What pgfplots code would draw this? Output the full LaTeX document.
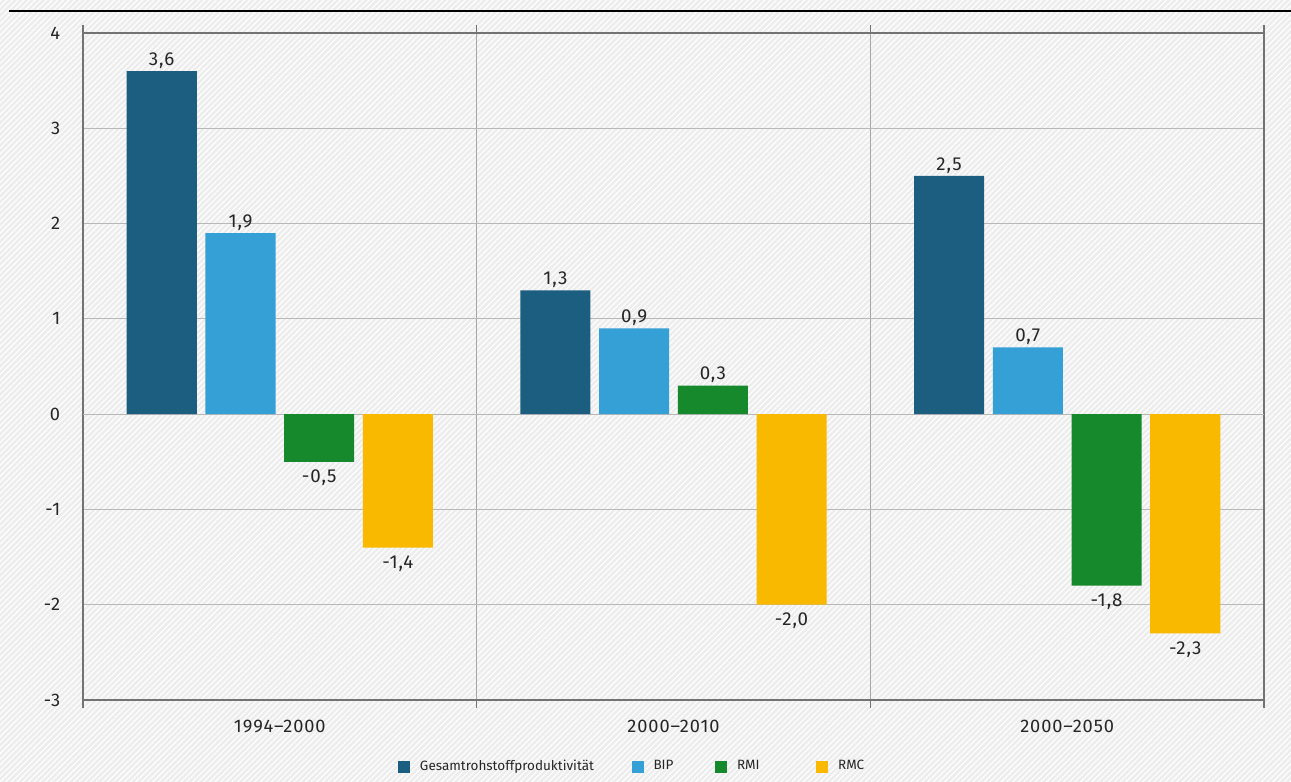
\documentclass[border=0pt]{standalone}
\usepackage{fontspec}
\setmainfont{Fira Sans}
\newfontfamily\tickfont{Fira Sans}[LetterSpace=5.0]
\usepackage{pgfplots}
\pgfplotsset{compat=1.18}
\usetikzlibrary{patterns.meta}
\definecolor{cDark}{RGB}{27,94,128}
\definecolor{cLight}{RGB}{52,160,214}
\definecolor{cGreen}{RGB}{22,137,44}
\definecolor{cYellow}{RGB}{249,185,0}
\pgfplotsset{sqlegend/.style={legend image code/.code={\fill[##1] (0pt,-2.4pt) rectangle (4.8pt,2.4pt);}}}
\begin{document}
\begin{tikzpicture}
\useasboundingbox (0,0) rectangle (516.4pt,312.8pt);
\fill[black!7] (0,0) rectangle (516.4pt,312.8pt);
\fill[pattern={Lines[angle=45,distance=1.6pt,line width=0.45pt]}, pattern color=white] (0,0) rectangle (516.4pt,312.8pt);
\draw[line width=1.1pt] (3.6pt,308.4pt) -- (516.4pt,308.4pt);
\begin{axis}[
  at={(33.2pt,32.8pt)}, anchor=south west,
  scale only axis, width=472.4pt, height=266.8pt,
  xmin=-0.5, xmax=2.5, ymin=-3, ymax=4,
  ybar, bar width=0.178,
  axis line style={black!55, line width=0.5pt},
  xtick={0,1,2}, xticklabels={1994–2000,2000–2010,2000–2050},
  minor xtick={-0.5,0.5,1.5,2.5},
  xminorgrids, minor grid style={black!35, line width=0.4pt},
  ymajorgrids, major grid style={black!28, line width=0.4pt},
  ytick={-3,...,4},
  extra y ticks={0}, extra y tick labels={},
  extra y tick style={grid style={black!55, line width=0.5pt}},
  major tick length=0pt, minor tick length=3.2pt, tick align=outside,
  tick style={black!55, line width=0.5pt},
  ticklabel style={font=\tickfont\fontsize{7.3}{8}\selectfont, text=black!85},
  /pgf/number format/assume math mode=true,
  yticklabel style={xshift=-5.6pt},
  xticklabel style={yshift=-4.5pt},
  nodes near coords,
  visualization depends on={y \as \yval},
  every node near coord/.append style={font=\tickfont\fontsize{7.5}{8}\selectfont, text=black!85,
     inner ysep=2.1pt, text depth=0pt, yshift={-1.0*(\yval<0)},
     /pgf/number format/.cd, fixed, fixed zerofill, precision=1, use comma, assume math mode=true},
  legend style={at={(0.2663,-0.1)}, anchor=west, draw=none, fill=none,
     legend columns=4, font=\fontsize{5.4}{6}\selectfont, inner sep=0pt, text=black!85,
     /tikz/every even column/.append style={column sep=13pt},
     /tikz/every odd column/.append style={column sep=2pt}},
]
\addplot[fill=cDark, draw=none, bar shift=-0.3, sqlegend] coordinates {(0,3.6) (1,1.3) (2,2.5)};
\addplot[fill=cLight, draw=none, bar shift=-0.1, sqlegend] coordinates {(0,1.9) (1,0.9) (2,0.7)};
\addplot[fill=cGreen, draw=none, bar shift=0.1, sqlegend] coordinates {(0,-0.5) (1,0.3) (2,-1.8)};
\addplot[fill=cYellow, draw=none, bar shift=0.3, sqlegend] coordinates {(0,-1.4) (1,-2.0) (2,-2.3)};
\legend{Gesamtrohstoffproduktivität, BIP\rule{1.6pt}{0pt}, RMI\rule{7.6pt}{0pt}, RMC}
\end{axis}
\end{tikzpicture}
\end{document}
